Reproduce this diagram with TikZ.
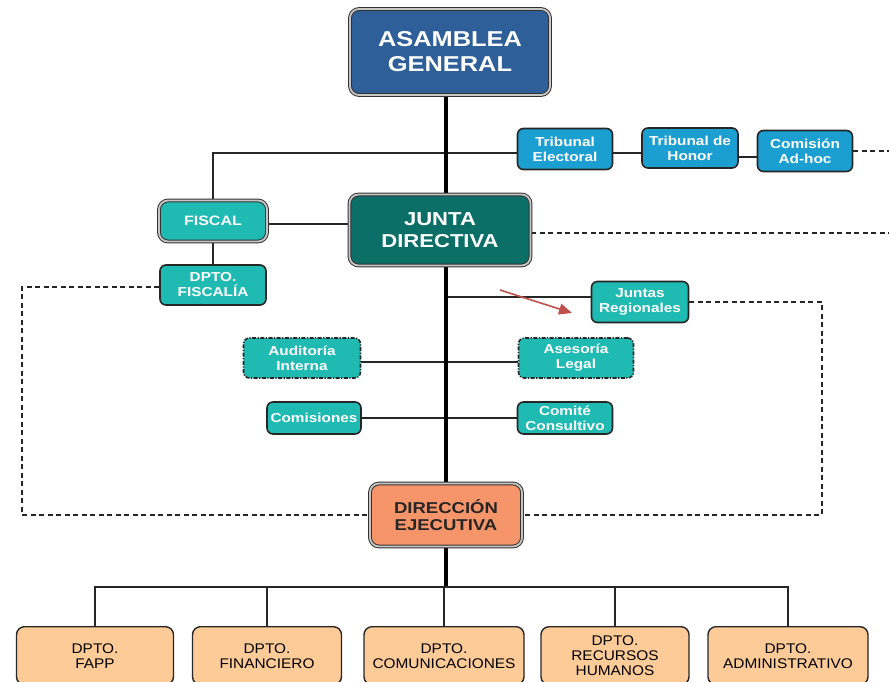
\documentclass[tikz,border=0pt]{standalone}
\usepackage{fontspec}
\setmainfont{Liberation Sans}
\newfontfamily\widef[FakeStretch=1.18]{Liberation Sans}
\newfontfamily\deptf[FakeStretch=1.1]{Liberation Sans}
\usetikzlibrary{arrows.meta,calc}
\pgfdeclarelayer{bgzero}
\pgfdeclarelayer{bglines}
\pgfsetlayers{bgzero,bglines,main}
\definecolor{cblue}{HTML}{2E5F99}
\definecolor{ccyan}{HTML}{1A9FD0}
\definecolor{cteal}{HTML}{1FBAB1}
\definecolor{cdteal}{HTML}{0B6F67}
\definecolor{corange}{HTML}{F7956A}
\definecolor{cpeach}{HTML}{FDCB98}
\definecolor{cred}{HTML}{C0504D}
\tikzset{
  conn/.style={draw=black!85, line width=2pt},
  mainconn/.style={draw=black, line width=4pt},
  dconn/.style={draw=black!85, line width=1.4pt, dash pattern=on 5pt off 3.5pt},
  dblbox/.style={rounded corners=9pt, draw=black!80, double=gray!45, double distance=1.8pt, line width=1pt, inner sep=0pt, align=center},
  smallbox/.style={rounded corners=6pt, draw=black!85, line width=1.6pt, inner sep=0pt, align=center, fill=cteal, text=white, font=\widef\bfseries\fontsize{13}{15}\selectfont},
  bluebox/.style={smallbox, fill=ccyan},
  dotbox/.style={smallbox, dash pattern=on 4pt off 1.5pt on 1.2pt off 1.5pt},
  deptbox/.style={rounded corners=8pt, draw=black!85, line width=1.4pt, fill=cpeach, inner sep=0pt, align=center, font=\deptf\fontsize{14}{15}\selectfont, minimum height=58pt, anchor=north},
}
\begin{document}
\begin{tikzpicture}[x=1pt,y=-1pt]
\useasboundingbox (0,0) rectangle (889,681);
\begin{pgfonlayer}{bgzero}
\fill[white] (0,0) rectangle (889,681);
\end{pgfonlayer}

% nodes
\node[dblbox, fill=cblue, text=white, font=\widef\bfseries\fontsize{21.5}{25}\selectfont, minimum width=200pt, minimum height=86pt] (asam) at (450,52) {ASAMBLEA\\GENERAL};
\node[dblbox, fill=cdteal, text=white, font=\widef\bfseries\fontsize{18.7}{22}\selectfont, minimum width=181pt, minimum height=71pt] (junta) at (440,230) {JUNTA\\DIRECTIVA};
\node[dblbox, fill=cteal, text=white, font=\widef\bfseries\fontsize{13.6}{15}\selectfont, minimum width=108pt, minimum height=41pt] (fiscal) at (213,221) {FISCAL};
\node[dblbox, fill=corange, text=black!85, font=\widef\bfseries\fontsize{15.7}{17.5}\selectfont, minimum width=152pt, minimum height=63pt] (dir) at (446,515) {DIRECCIÓN\\EJECUTIVA};

\node[bluebox, minimum width=95pt, minimum height=41pt] (telec) at (565,149) {Tribunal\\Electoral};
\node[bluebox, minimum width=96pt, minimum height=40pt] (thon) at (690,148) {Tribunal de\\Honor};
\node[bluebox, minimum width=95pt, minimum height=41pt] (adhoc) at (805,151) {Comisión\\Ad-hoc};

\node[smallbox, minimum width=106pt, minimum height=40pt] (fisc2) at (213,285) {DPTO.\\FISCALÍA};
\node[smallbox, minimum width=97pt, minimum height=41pt] (jreg) at (640,302) {Juntas\\Regionales};
\node[dotbox, minimum width=117pt, minimum height=40pt] (aud) at (302,358) {Auditoría\\Interna};
\node[dotbox, minimum width=115pt, minimum height=40pt] (ases) at (576,358) {Asesoría\\Legal};
\node[smallbox, minimum width=94pt, minimum height=32pt] (comis) at (314,418) {Comisiones};
\node[smallbox, minimum width=95pt, minimum height=32pt] (comite) at (565,418) {Comité\\Consultivo};

\node[deptbox, minimum width=157pt] (d1) at (95,626) {DPTO.\\FAPP};
\node[deptbox, minimum width=149pt] (d2) at (267,626) {DPTO.\\FINANCIERO};
\node[deptbox, minimum width=160pt] (d3) at (444,626) {DPTO.\\COMUNICACIONES};
\node[deptbox, minimum width=148pt] (d4) at (615,626) {DPTO.\\RECURSOS\\HUMANOS};
\node[deptbox, minimum width=160pt] (d5) at (788,626) {DPTO.\\ADMINISTRATIVO};

% coordinates
\coordinate (bus) at (446,587);
\coordinate (rightA) at (889,152);
\coordinate (rightB) at (889,233);
\coordinate (leftC) at (22,287);
\coordinate (rightC) at (822,302);
\coordinate (arrS) at (500,290);
\coordinate (arrE) at (572,313);

\begin{pgfonlayer}{bglines}
\draw[conn] (fiscal.north) |- ([yshift=-4pt]telec.west);
\draw[conn] ([yshift=-4pt]telec.east) -- ([yshift=-4pt]telec.east -| thon.west);
\draw[conn] ([yshift=-9pt]thon.east) -- ([yshift=-9pt]thon.east -| adhoc.west);
\draw[dconn] (adhoc.east) -- (adhoc.east -| rightA);
\draw[conn] ([yshift=-3pt]fiscal.east) -- ([yshift=-3pt]fiscal.east -| junta.west);
\draw[dconn] ([yshift=-3pt]junta.east) -- ([yshift=-3pt]junta.east -| rightB);
\draw[conn] (fiscal.south) -- (fisc2.north);
\draw[dconn] ([yshift=-2pt]fisc2.west) -- ([yshift=-2pt]fisc2.west -| leftC) |- (dir.west);
\draw[conn] ([yshift=5pt]jreg.west -| dir.north) -- ([yshift=5pt]jreg.west);
\draw[dconn] (jreg.east) -- (jreg.east -| rightC) |- (dir.east);
\draw[conn] ([yshift=-4pt]aud.east) -- ([yshift=-4pt]aud.east -| ases.west);
\draw[conn] (comis.east) -- (comite.west);
\draw[mainconn] (dir.north |- asam.south) -- (dir.north);
\draw[mainconn] (dir.south) -- (bus);
\draw[conn] (d1.north) |- (bus) -| (d5.north);
\draw[conn] (d2.north) -- (d2.north |- bus);
\draw[conn] (d3.north) -- (d3.north |- bus);
\draw[conn] (d4.north) -- (d4.north |- bus);
\end{pgfonlayer}
\draw[cred, line width=1.6pt, -{Triangle[length=13pt,width=11pt]}] (arrS) -- (arrE);
\end{tikzpicture}
\end{document}
